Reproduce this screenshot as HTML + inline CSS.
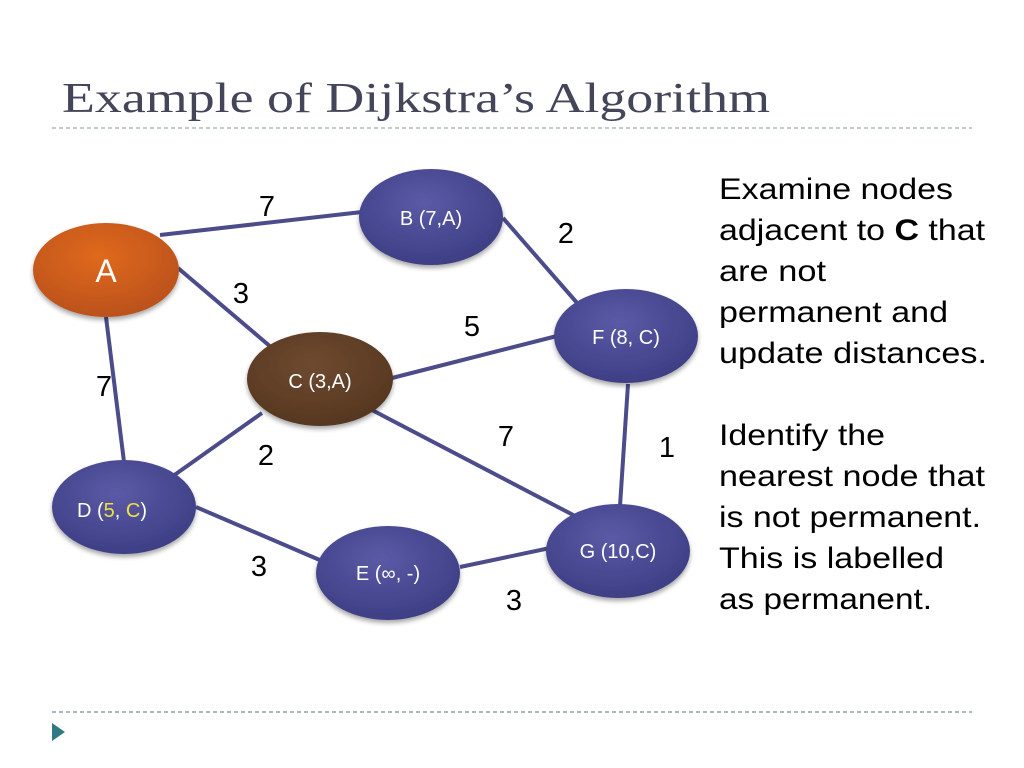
<!DOCTYPE html>
<html><head><meta charset="utf-8"><style>
html,body{margin:0;padding:0;background:#fff;}
svg{display:block;}
</style></head><body>
<svg width="1024" height="768" viewBox="0 0 1024 768" xmlns="http://www.w3.org/2000/svg">
<defs>
<radialGradient id="gb" cx="45%" cy="35%" r="70%"><stop offset="0" stop-color="#5a5aa6"/><stop offset="1" stop-color="#3c3c82"/></radialGradient>
<radialGradient id="go" cx="45%" cy="35%" r="70%"><stop offset="0" stop-color="#e0691f"/><stop offset="1" stop-color="#b8501a"/></radialGradient>
<radialGradient id="gc" cx="45%" cy="35%" r="70%"><stop offset="0" stop-color="#6e4a30"/><stop offset="1" stop-color="#54361f"/></radialGradient>
<filter id="sh" x="-20%" y="-20%" width="140%" height="150%"><feDropShadow dx="0" dy="3" stdDeviation="2.5" flood-color="#000" flood-opacity="0.35"/></filter>
</defs>
<text x="62" y="112" font-family="Liberation Serif, serif" font-size="42" fill="#45455a" textLength="708" lengthAdjust="spacingAndGlyphs">Example of Dijkstra’s Algorithm</text>
<line x1="52" y1="128" x2="972" y2="128" stroke="#9bb0a8" stroke-width="1.3" stroke-dasharray="4,3"/>
<line x1="52" y1="712" x2="972" y2="712" stroke="#7a8f90" stroke-width="1.3" stroke-dasharray="4,3"/>
<polygon points="52,723 65,732 52,741" fill="#2f7a82"/>
<g stroke="#4c4c8a" stroke-width="4">
<line x1="160" y1="235" x2="362" y2="212"/>
<line x1="178" y1="268" x2="272" y2="348"/>
<line x1="106" y1="317" x2="124" y2="462"/>
<line x1="503" y1="218" x2="578" y2="304"/>
<line x1="392" y1="378" x2="557" y2="336"/>
<line x1="372" y1="410" x2="577" y2="517"/>
<line x1="262" y1="413" x2="173" y2="476"/>
<line x1="628" y1="384" x2="620" y2="506"/>
<line x1="196" y1="507" x2="322" y2="561"/>
<line x1="460" y1="567" x2="550" y2="548"/>
</g>
<g filter="url(#sh)">
<ellipse cx="106" cy="270" rx="73" ry="47" fill="url(#go)"/>
<ellipse cx="431" cy="217" rx="72" ry="48" fill="url(#gb)"/>
<ellipse cx="320" cy="379" rx="73" ry="47" fill="url(#gc)"/>
<ellipse cx="626" cy="336" rx="72" ry="47" fill="url(#gb)"/>
<ellipse cx="124" cy="507" rx="72" ry="47" fill="url(#gb)"/>
<ellipse cx="388" cy="573" rx="72" ry="47" fill="url(#gb)"/>
<ellipse cx="618" cy="551" rx="72" ry="47" fill="url(#gb)"/>
</g>
<g font-family="Liberation Sans, sans-serif" fill="#fff" text-anchor="middle" font-size="20">
<text x="106" y="282" font-size="32">A</text>
<text x="431" y="225">B (7,A)</text>
<text x="320" y="388">C (3,A)</text>
<text x="626" y="344">F (8, C)</text>
<text x="112" y="517">D (<tspan fill="#f0e040">5</tspan>, <tspan fill="#f0e040">C</tspan>)</text>
<text x="388" y="580">E (∞, -)</text>
<text x="618" y="558">G (10,C)</text>
</g>
<g font-family="Liberation Sans, sans-serif" fill="#000" font-size="29" text-anchor="middle">
<text x="267" y="216">7</text>
<text x="566" y="243">2</text>
<text x="241" y="303">3</text>
<text x="472" y="336">5</text>
<text x="104" y="396">7</text>
<text x="506" y="446">7</text>
<text x="667" y="457">1</text>
<text x="266" y="465">2</text>
<text x="259" y="576">3</text>
<text x="514" y="610">3</text>
</g>
<g font-family="Liberation Sans, sans-serif" fill="#000" font-size="30">
<text x="719" y="199" textLength="234" lengthAdjust="spacingAndGlyphs">Examine nodes</text>
<text x="719" y="240" textLength="266" lengthAdjust="spacingAndGlyphs">adjacent to <tspan font-weight="bold">C</tspan> that</text>
<text x="719" y="281" textLength="107" lengthAdjust="spacingAndGlyphs">are not</text>
<text x="719" y="322" textLength="229" lengthAdjust="spacingAndGlyphs">permanent and</text>
<text x="719" y="363" textLength="268" lengthAdjust="spacingAndGlyphs">update distances.</text>
<text x="719" y="445" textLength="166" lengthAdjust="spacingAndGlyphs">Identify the</text>
<text x="719" y="486" textLength="266" lengthAdjust="spacingAndGlyphs">nearest node that</text>
<text x="719" y="527" textLength="262" lengthAdjust="spacingAndGlyphs">is not permanent.</text>
<text x="719" y="568" textLength="225" lengthAdjust="spacingAndGlyphs">This is labelled</text>
<text x="719" y="609" textLength="213" lengthAdjust="spacingAndGlyphs">as permanent.</text>
</g>
</svg>
</body></html>
